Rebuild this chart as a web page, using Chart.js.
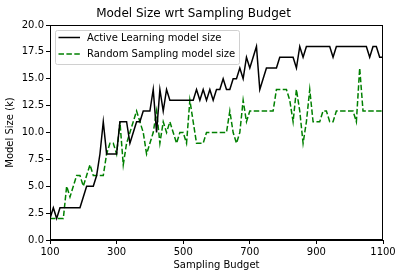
<!DOCTYPE html>
<html><head><meta charset="utf-8">
<script src="https://cdn.jsdelivr.net/npm/chart.js@4.4.0/dist/chart.umd.min.js"></script>
<style>html,body{margin:0;padding:0;background:#fff}#wrap{width:395px;height:276px}</style>
</head><body><div id="wrap"><canvas id="c" width="395" height="276"></canvas></div>
<script>
const budgets = [100,110,120,130,140,150,160,170,180,190,200,210,220,230,240,250,260,270,280,290,300,310,320,330,340,350,360,370,380,390,400,410,420,430,440,450,460,470,480,490,500,510,520,530,540,550,560,570,580,590,600,610,620,630,640,650,660,670,680,690,700,710,720,730,740,750,760,770,780,790,800,810,820,830,840,850,860,870,880,890,900,910,920,930,940,950,960,970,980,990,1000,1010,1020,1030,1040,1050,1060,1070,1080,1090,1100];
const activeLearning = [2,3,2,3,3,3,3,3,3,3,4,5,5,5,6,8,11,8,8,8,8,11,11,11,9,10,11,11,12,12,12,14,10,14,12,14,13,13,13,13,13,13,13,13,14,13,14,13,14,13,14,14,15,14,14,15,15,16,15,17,16,17,18,14,15,16,16,16,16,17,17,17,17,17,16,18,17,18,18,18,18,18,18,18,18,17,18,18,18,18,18,18,18,18,18,18,17,18,18,17,17];
const randomSampling = [2,2,2,2,2,5,4,5,6,6,5,6,7,6,6,6,6,8,9,9,8,11,7,9,10,11,12,11,10,8,9,10,12,9,11,10,11,10,9,10,10,9,13,11,9,9,9,10,10,10,10,10,10,10,12,10,9,10,13,11,12,12,12,12,12,12,12,12,14,14,14,14,13,11,14,12,9,11,14,11,11,11,12,12,11,11,12,12,12,12,12,12,11,16,12,12,12,12,12,12,12];
const seriesNames = ['Active Learning model size', 'Random Sampling model size'];
const xTicks = [100, 300, 500, 700, 900, 1100];
const yTicks = [0, 2.5, 5, 7.5, 10, 12.5, 15, 17.5, 20];

const FONT = "'DejaVu Sans', sans-serif";
Chart.defaults.font.family = FONT;
Chart.defaults.color = '#000';

const framePlugin = {
  id: 'frame',
  afterDatasetsDraw(chart) {
    const {ctx, chartArea: a} = chart;
    ctx.save();
    ctx.strokeStyle = '#000';
    ctx.lineWidth = 1;
    ctx.strokeRect(Math.round(a.left) + 0.5, Math.round(a.top) + 0.5, Math.round(a.right - a.left) - 1, Math.round(a.bottom - a.top) - 1);
    ctx.restore();
  }
};

const legendPlugin = {
  id: 'legendBox',
  afterDraw(chart) {
    const {ctx, chartArea: a} = chart;
    const x = Math.round(a.left) + 5, y = Math.round(a.top) + 5, w = 184, h = 34;
    ctx.save();
    ctx.beginPath();
    ctx.roundRect(x + 0.5, y + 0.5, w, h, 2);
    ctx.fillStyle = 'rgba(255,255,255,0.8)';
    ctx.fill();
    ctx.strokeStyle = '#d0d0d0';
    ctx.lineWidth = 1;
    ctx.stroke();
    chart.data.datasets.forEach((ds, i) => {
      const ly = y + 7.5 + i * 16.5;
      ctx.beginPath();
      ctx.setLineDash(ds.borderDash || []);
      ctx.strokeStyle = ds.borderColor;
      ctx.lineWidth = 1.5;
      ctx.moveTo(x + 3.5, ly);
      ctx.lineTo(x + 25, ly);
      ctx.stroke();
      ctx.setLineDash([]);
      ctx.fillStyle = '#000';
      ctx.font = "10px " + FONT;
      ctx.textBaseline = 'middle';
      ctx.textAlign = 'left';
      ctx.fillText(ds.label, x + 32, ly + 0.5);
    });
    ctx.restore();
  }
};

const toPoints = arr => budgets.map((b, i) => ({x: b, y: arr[i]}));

new Chart(document.getElementById('c'), {
  type: 'line',
  data: {
    datasets: [
      {label: seriesNames[0], data: toPoints(activeLearning), borderColor: '#000000', borderWidth: 1.5, pointRadius: 0, tension: 0, fill: false},
      {label: seriesNames[1], data: toPoints(randomSampling), borderColor: '#008000', borderWidth: 1.5, borderDash: [5.5, 2.4], pointRadius: 0, tension: 0, fill: false}
    ]
  },
  options: {
    responsive: false,
    animation: false,
    devicePixelRatio: 1,
    layout: {padding: {left: 4, right: 12, top: 0, bottom: 5}},
    plugins: {
      legend: {display: false},
      tooltip: {enabled: false},
      title: {display: true, text: 'Model Size wrt Sampling Budget', color: '#000', font: {family: FONT, size: 12, weight: 'normal'}, padding: {top: 7, bottom: 3.6}}
    },
    scales: {
      x: {
        type: 'linear', min: 100, max: 1100,
        afterBuildTicks: s => { s.ticks = xTicks.map(v => ({value: v})); },
        afterFit: s => { s.height = 31; s.paddingRight = 0; s.paddingLeft = 0; },
        ticks: {font: {size: 10}, color: '#000', padding: 2, maxRotation: 0, autoSkip: false, callback: v => String(v)},
        grid: {drawOnChartArea: false, drawTicks: true, tickLength: 4, color: '#000'},
        border: {display: true, color: '#000', width: 1},
        title: {display: true, text: 'Sampling Budget', font: {size: 10}, color: '#000', padding: 0}
      },
      y: {
        min: 0, max: 20,
        afterBuildTicks: s => { s.ticks = yTicks.map(v => ({value: v})); },
        afterFit: s => { s.width = 46; s.paddingTop = 0; s.paddingBottom = 0; },
        ticks: {font: {size: 10}, color: '#000', padding: 2, callback: v => Number(v).toFixed(1)},
        grid: {drawOnChartArea: false, drawTicks: true, tickLength: 4, color: '#000'},
        border: {display: true, color: '#000', width: 1},
        title: {display: true, text: 'Model Size (k)', font: {size: 10}, color: '#000', padding: 0}
      }
    }
  },
  plugins: [framePlugin, legendPlugin]
});
</script>
</body></html>
